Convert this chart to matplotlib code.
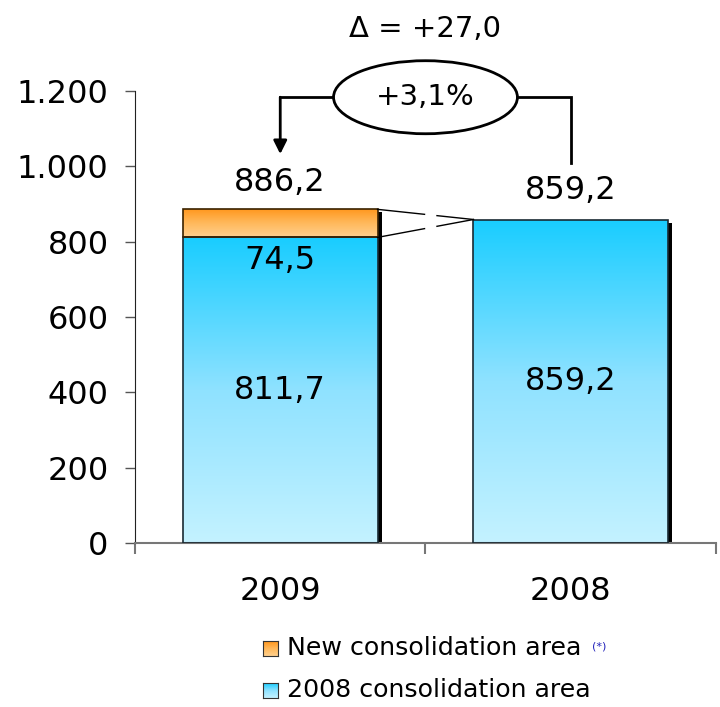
import numpy as np
import matplotlib.pyplot as plt
from matplotlib.patches import Rectangle, Ellipse
from matplotlib.colors import LinearSegmentedColormap
from matplotlib.transforms import ScaledTranslation

# revenue by perimeter, 2009 vs 2008
years = ['2009', '2008']
base_area = [811.7, 859.2]       # 2008 consolidation area
new_area = [74.5, 0.0]           # new consolidation area
totals = [886.2, 859.2]
delta_label = 'Δ = +27,0'
pct_label = '+3,1%'
legend_labels = ['New consolidation area', '2008 consolidation area']
y_ticks = [0, 200, 400, 600, 800, 1000, 1200]

cyan_cmap = LinearSegmentedColormap.from_list('cyan', ['#c4f2ff', '#8fe2ff', '#19cdff'])
orange_cmap = LinearSegmentedColormap.from_list('orange', ['#ffd08e', '#ffb85a', '#ff951a'])
edge = '#1a2a33'
bar_w = 0.67


def fmt(v):
    return f'{v:.1f}'.replace('.', ',')


plt.rcParams['font.family'] = ['DejaVu Sans']

fig = plt.figure(figsize=(7.2, 7.07), dpi=100)
ax = fig.add_axes([0.1875, 0.232, 0.8069, 0.639])
ax.set_xlim(-0.5, 1.5)
ax.set_ylim(0, 1200)

grad = np.linspace(0, 1, 256).reshape(-1, 1)
shadow_off = ScaledTranslation(4 / 100, -3 / 100, fig.dpi_scale_trans)


def gradient_bar(x, y0, h, cmap, edgecolor):
    left = x - bar_w / 2
    im = ax.imshow(grad, cmap=cmap, origin='lower', aspect='auto',
                   extent=[left, left + bar_w, y0, y0 + h], zorder=2)
    rect = Rectangle((left, y0), bar_w, h, facecolor='none',
                     edgecolor=edgecolor, linewidth=1.2, zorder=3)
    ax.add_patch(rect)
    im.set_clip_path(rect)


for i, year in enumerate(years):
    # drop shadow on the right of each bar
    ax.add_patch(Rectangle((i - bar_w / 2, 0), bar_w, totals[i], facecolor='black',
                           edgecolor='none', zorder=1,
                           transform=ax.transData + shadow_off))
    gradient_bar(i, 0, base_area[i], cyan_cmap, edge)
    if new_area[i] > 0:
        gradient_bar(i, base_area[i], new_area[i], orange_cmap, '#3a2200')

ax.set_xlim(-0.5, 1.5)
ax.set_ylim(0, 1200)

# value labels
fs = 23
ax.text(0, base_area[0] / 2, fmt(base_area[0]), ha='center', va='center', fontsize=fs, zorder=5)
ax.text(0, base_area[0] - 62, fmt(new_area[0]), ha='center', va='center', fontsize=fs, zorder=5)
ax.text(0, totals[0] + 70, fmt(totals[0]), ha='center', va='center', fontsize=fs)
ax.text(1, base_area[1] / 2, fmt(base_area[1]), ha='center', va='center', fontsize=fs, zorder=5)
ax.text(1, totals[1] + 78, fmt(totals[1]), ha='center', va='center', fontsize=fs)

# connector lines from the 2009 stack to the 2008 bar, broken in the middle
x0 = 0 + bar_w / 2
x1 = 1 - bar_w / 2
for ya in (totals[0], base_area[0]):
    for f0, f1 in ((0.0, 0.49), (0.62, 1.0)):
        ax.plot([x0 + (x1 - x0) * f0, x0 + (x1 - x0) * f1],
                [ya + (totals[1] - ya) * f0, ya + (totals[1] - ya) * f1],
                color='black', lw=1.0, zorder=4)

# bracket with growth ellipse
ell_y = 1184
ax.add_patch(Ellipse((0.5, ell_y), 0.633, 194, facecolor='white', edgecolor='black',
                     lw=2, zorder=6, clip_on=False))
ax.text(0.5, ell_y, pct_label, ha='center', va='center', fontsize=21, zorder=7, clip_on=False)
ax.plot([0.5 - 0.317, 1.0, 1.0], [ell_y, ell_y, 1009], color='black', lw=2,
        zorder=5, clip_on=False, solid_joinstyle='miter')
ax.annotate('', xy=(0, 1033), xytext=(0, ell_y), zorder=5, annotation_clip=False,
            arrowprops=dict(arrowstyle='-|>', color='black', lw=2, shrinkA=0, shrinkB=0,
                            mutation_scale=20))
ax.plot([0.5 - 0.317, 0], [ell_y, ell_y], color='black', lw=2, zorder=5, clip_on=False,
        solid_joinstyle='miter')
ax.text(0.5, 1365, delta_label, ha='center', va='center', fontsize=21, clip_on=False)

# axes styling
for side in ('top', 'right'):
    ax.spines[side].set_visible(False)
ax.spines['left'].set_color('#222222')
ax.spines['bottom'].set_color('#777777')
ax.spines['bottom'].set_linewidth(1.5)
ax.set_yticks(y_ticks)
ax.set_yticklabels([f'{v:,}'.replace(',', '.') for v in y_ticks])
ax.tick_params(axis='y', direction='out', length=7, width=1, color='#555555',
               labelsize=23, pad=12)
ax.set_xticks([-0.5, 0.5, 1.5])
ax.set_xticklabels([])
ax.set_xticks([0, 1], minor=True)
ax.set_xticklabels(years, minor=True)
ax.tick_params(axis='x', which='major', direction='out', length=8, width=1.5, color='#777777')
ax.tick_params(axis='x', which='minor', length=0, labelsize=23, pad=24)

# legend
legend_cmaps = [orange_cmap, cyan_cmap]
legend_y = [0.083, 0.024]
for lab, cm, yy in zip(legend_labels, legend_cmaps, legend_y):
    hax = fig.add_axes([0.365, yy - 0.011, 0.021, 0.021])
    hax.imshow(grad, cmap=cm, origin='lower', aspect='auto')
    hax.set_xticks([])
    hax.set_yticks([])
    for s in hax.spines.values():
        s.set_color('#333333')
    fig.text(0.398, yy, lab, fontsize=18.2, va='center', ha='left')

fig.canvas.draw()
lab_txt = fig.texts[0]
bb = lab_txt.get_window_extent()
fig.text(bb.x1 / fig.bbox.width + 0.015, bb.y1 / fig.bbox.height - 0.008, '(*)',
         fontsize=8, color='#2222bb', va='top', ha='left')

fig.savefig('out.png', dpi=100)
